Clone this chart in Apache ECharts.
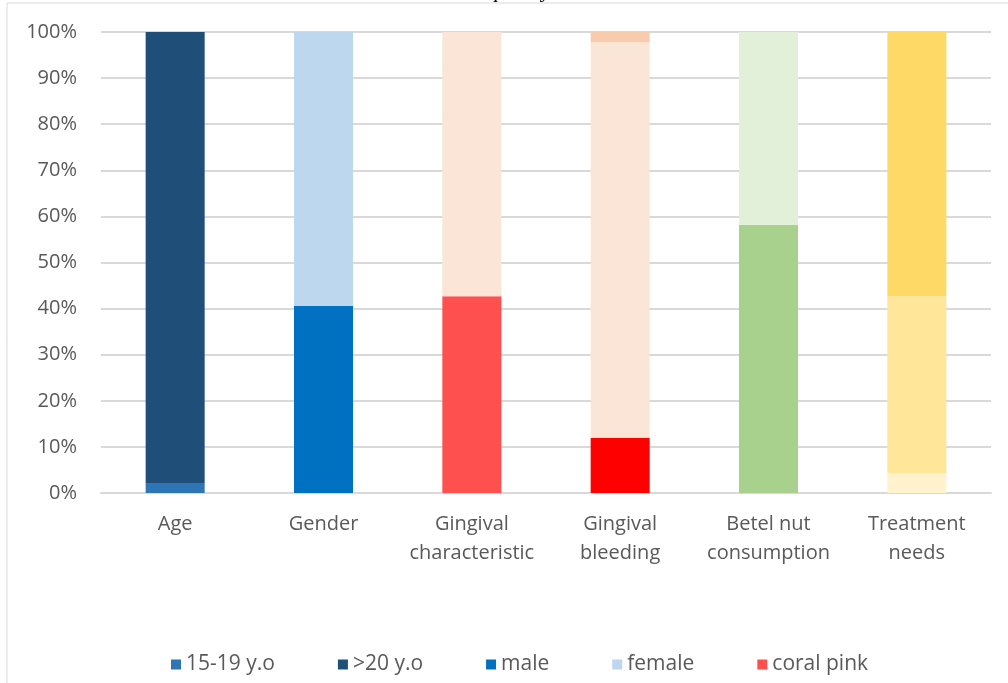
<!DOCTYPE html>
<html>
<head>
<meta charset="utf-8">
<script src="https://cdn.jsdelivr.net/npm/echarts@6/dist/echarts.min.js"></script>
<style>
  html, body { margin: 0; padding: 0; background: #fff; }
  #chart { width: 1008px; height: 683px; }
</style>
</head>
<body>
<div id="chart"></div>
<script>
const categories = ['Age', 'Gender', 'Gingival\ncharacteristic', 'Gingival\nbleeding', 'Betel nut\nconsumption', 'Treatment\nneeds'];
const yTicks = [0, 10, 20, 30, 40, 50, 60, 70, 80, 90, 100];

// one entry per stacked segment, bottom to top within each column
const age1519 = [2.0, null, null, null, null, null];
const ageOver20 = [98.0, null, null, null, null, null];
const male = [null, 40.6, null, null, null, null];
const female = [null, 59.4, null, null, null, null];
const coralPink = [null, null, 42.7, null, null, null];
const otherColour = [null, null, 57.3, null, null, null];
const bleedingYes = [null, null, null, 12.0, null, null];
const bleedingNo = [null, null, null, 85.8, null, null];
const bleedingOther = [null, null, null, 2.2, null, null];
const betelYes = [null, null, null, null, 58.2, null];
const betelNo = [null, null, null, null, 41.8, null];
const needsLow = [null, null, null, null, null, 4.3];
const needsMid = [null, null, null, null, null, 38.4];
const needsHigh = [null, null, null, null, null, 57.3];

const legendNames = ['15-19 y.o', '>20 y.o', 'male', 'female', 'coral pink'];

const FONT = '"Open Sans", sans-serif';

function seg(name, data, color) {
  return {
    name,
    type: 'bar',
    stack: 'total',
    data,
    barWidth: 59,
    itemStyle: { color },
    emphasis: { disabled: true },
  };
}

const chart = echarts.init(document.getElementById('chart'));
chart.setOption({
  animation: false,
  backgroundColor: '#fff',
  title: {
    text: 'Frequency',
    left: 'center',
    top: -25,
    textStyle: { fontFamily: '"Liberation Serif", serif', fontSize: 22, fontWeight: 'normal', color: '#000' },
  },
  graphic: [{
    type: 'rect',
    shape: { x: 7, y: 3, width: 1010, height: 700 },
    style: { fill: 'none', stroke: '#d9d9d9', lineWidth: 1 },
    silent: true,
  }],
  grid: { left: 101, right: 17, top: 32, bottom: 190 },
  legend: {
    data: legendNames,
    bottom: 3,
    left: 166,
    itemWidth: 10,
    itemHeight: 10,
    itemGap: 63,
    icon: 'rect',
    textStyle: { fontFamily: FONT, fontSize: 21, color: '#595959' },
  },
  xAxis: {
    type: 'category',
    data: categories,
    axisTick: { show: false },
    axisLine: { lineStyle: { color: '#d9d9d9', width: 2 } },
    axisLabel: { fontFamily: FONT, fontSize: 20, color: '#595959', margin: 17, lineHeight: 29, interval: 0 },
  },
  yAxis: {
    type: 'value',
    min: yTicks[0],
    max: yTicks[yTicks.length - 1],
    interval: 10,
    axisLine: { show: false },
    axisTick: { show: false },
    axisLabel: { fontFamily: FONT, fontSize: 20, color: '#595959', margin: 24, formatter: '{value}%' },
    splitLine: { lineStyle: { color: '#d9d9d9', width: 2 } },
  },
  series: [
    seg('15-19 y.o', age1519, '#2E75B6'),
    seg('>20 y.o', ageOver20, '#1F4E79'),
    seg('male', male, '#0070C0'),
    seg('female', female, '#BDD7EE'),
    seg('coral pink', coralPink, '#FF5050'),
    seg('other colour', otherColour, '#FBE5D6'),
    seg('bleeding', bleedingYes, '#FF0000'),
    seg('no bleeding', bleedingNo, '#FBE5D6'),
    seg('bleeding other', bleedingOther, '#F8CBAD'),
    seg('betel yes', betelYes, '#A9D18E'),
    seg('betel no', betelNo, '#E2F0D9'),
    seg('needs low', needsLow, '#FFF2CC'),
    seg('needs mid', needsMid, '#FFE699'),
    seg('needs high', needsHigh, '#FFD966'),
  ],
});
</script>
</body>
</html>
